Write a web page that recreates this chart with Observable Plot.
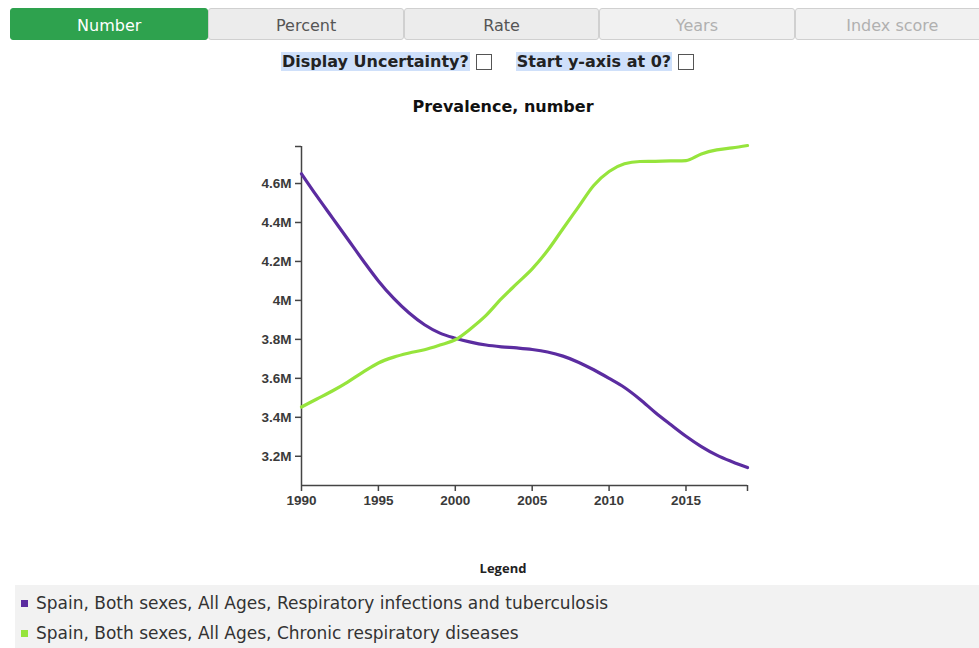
<!DOCTYPE html>
<html>
<head>
<meta charset="utf-8">
<script src="https://cdn.jsdelivr.net/npm/d3@7"></script>
<script src="https://cdn.jsdelivr.net/npm/@observablehq/plot@0.6"></script>
<style>
  body { margin: 0; background: #fff; font-family: "DejaVu Sans", Verdana, sans-serif; width: 979px; height: 648px; position: relative; overflow: hidden; }
  .tabs { position: absolute; left: 10px; top: 8px; width: 980px; height: 32px; display: flex; }
  .tab { width: 196px; line-height: 34px; text-align: center; font-size: 16px; border: 1px solid #d0d0d0; background: #ececec; color: #555; box-sizing: border-box; height: 32px; border-radius: 3px; font-family: "DejaVu Sans", sans-serif; }
  .tab.active { background: #2ea24e; color: #fff; border-color: #2ea24e; width: 199px; }
  .tab.disabled { color: #b0b0b0; background: #f1f1f1; }
  .opts { position: absolute; top: 52px; left: 281px; font-size: 16px; font-weight: bold; color: #222; font-family: "DejaVu Sans", sans-serif; display: flex; align-items: center; }
  .opt { background: #cfe0fa; padding: 0 1px; }
  .cb { display: inline-block; width: 14px; height: 14px; border: 1px solid #555; background: #fff; margin: 0 24px 0 6px; }
  .title { position: absolute; top: 97px; left: 0; width: 1006px; text-align: center; font-size: 16px; font-weight: bold; color: #111; }
  #chart { position: absolute; left: 0; top: 130px; }
  .legtitle { position: absolute; top: 559px; left: 0; width: 1006px; text-align: center; font-size: 13px; font-weight: bold; color: #222; font-family: "Open Sans", sans-serif; }
  .legend { position: absolute; left: 15px; top: 585px; width: 964px; height: 63px; background: #f2f2f2; }
  .item { position: absolute; left: 6px; font-size: 17px; color: #333; font-family: "DejaVu Sans", sans-serif; }
  .sw { display: inline-block; width: 7px; height: 7px; margin-right: 8px; vertical-align: 2px; }
</style>
</head>
<body>
<div class="tabs" id="tabs"></div>
<div class="opts"><span class="opt">Display Uncertainty?</span><span class="cb"></span><span class="opt">Start y-axis at 0?</span><span class="cb"></span></div>
<div class="title" id="title"></div>
<div id="chart"></div>
<div class="legtitle">Legend</div>
<div class="legend" id="legend"></div>
<script>
const tabLabels = ["Number", "Percent", "Rate", "Years", "Index score"];
const chartTitle = "Prevalence, number";
const years = [1990,1991,1992,1993,1994,1995,1996,1997,1998,1999,2000,2001,2002,2003,2004,2005,2006,2007,2008,2009,2010,2011,2012,2013,2014,2015,2016,2017,2018,2019];
const seriesNames = [
  "Spain, Both sexes, All Ages, Respiratory infections and tuberculosis",
  "Spain, Both sexes, All Ages, Chronic respiratory diseases"
];
const seriesColors = ["#5b2ca0", "#96e43c"];
const respInfections = [4.650,4.535,4.425,4.315,4.205,4.100,4.010,3.935,3.875,3.832,3.806,3.786,3.771,3.762,3.756,3.748,3.735,3.714,3.683,3.644,3.600,3.553,3.493,3.425,3.363,3.303,3.250,3.206,3.172,3.142];
const chronicResp = [3.453,3.494,3.535,3.581,3.632,3.679,3.709,3.730,3.747,3.771,3.798,3.855,3.923,4.009,4.086,4.162,4.256,4.368,4.479,4.590,4.662,4.701,4.713,4.714,4.716,4.718,4.752,4.773,4.783,4.795];
const yDomain = [3.05e6, 4.79e6];
const yTicks = [3.2e6, 3.4e6, 3.6e6, 3.8e6, 4.0e6, 4.2e6, 4.4e6, 4.6e6];
const xTicks = [1990, 1995, 2000, 2005, 2010, 2015];

// header
const tabs = document.getElementById("tabs");
tabLabels.forEach((t, i) => {
  const d = document.createElement("div");
  d.className = "tab" + (i === 0 ? " active" : i >= 3 ? " disabled" : "");
  d.textContent = t;
  tabs.appendChild(d);
});
document.getElementById("title").textContent = chartTitle;

const rows = [];
[respInfections, chronicResp].forEach((vals, s) => {
  vals.forEach((v, i) => rows.push({year: years[i], value: v * 1e6, series: seriesNames[s]}));
});

const fmt = d3.format(".2~s");
const chart = Plot.plot({
  width: 979,
  height: 390,
  marginLeft: 301,
  marginRight: 232,
  marginTop: 16,
  marginBottom: 35,
  style: {fontFamily: "Liberation Sans, Arial, sans-serif", fontSize: "13.5px", color: "#333", background: "transparent"},
  x: {domain: [years[0], years[years.length - 1]], label: null},
  y: {domain: yDomain, label: null},
  color: {domain: seriesNames, range: seriesColors},
  marks: [
    Plot.axisX({ticks: xTicks.concat([years[years.length - 1]]), tickFormat: d => xTicks.includes(d) ? String(d) : "", tickSize: 6, tickPadding: 4, stroke: "#444", strokeWidth: 1.5, fontWeight: "bold", fill: "#3a3a3a"}),
    Plot.axisY({ticks: yTicks.concat([yDomain[1]]), tickFormat: d => yTicks.includes(d) ? fmt(d) : "", tickSize: 6, tickPadding: 4, stroke: "#444", strokeWidth: 1.5, fontWeight: "bold", fill: "#3a3a3a"}),
    Plot.ruleX([years[0]], {stroke: "#444", strokeWidth: 1.5}),
    Plot.ruleY([yDomain[0]], {stroke: "#444", strokeWidth: 1.5}),
    Plot.line(rows, {x: "year", y: "value", stroke: "series", strokeWidth: 3.2, curve: "monotone-x"})
  ]
});
document.getElementById("chart").appendChild(chart);

const legend = document.getElementById("legend");
seriesNames.forEach((n, i) => {
  const d = document.createElement("div");
  d.className = "item";
  d.style.top = (8 + i * 30) + "px";
  const sw = document.createElement("span");
  sw.className = "sw";
  sw.style.background = seriesColors[i];
  d.appendChild(sw);
  d.appendChild(document.createTextNode(n));
  legend.appendChild(d);
});
</script>
</body>
</html>
